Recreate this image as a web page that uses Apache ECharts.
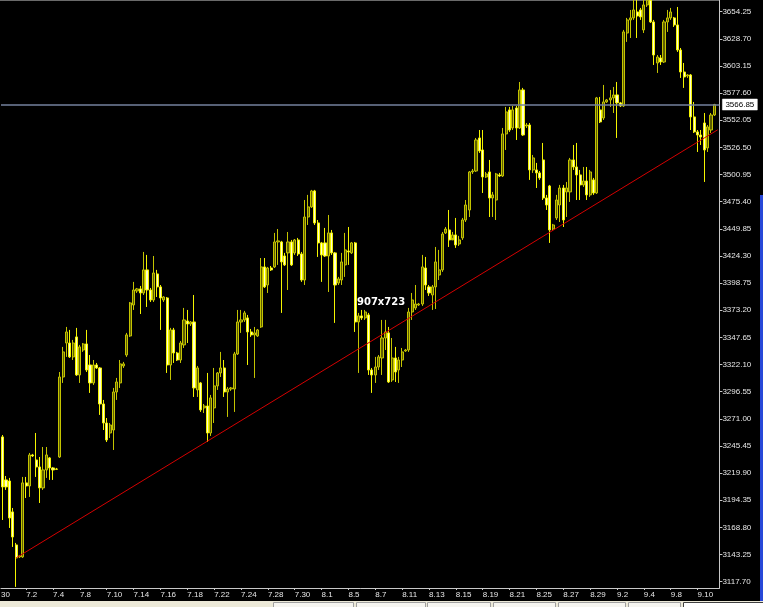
<!DOCTYPE html>
<html>
<head>
<meta charset="utf-8">
<script src="https://cdn.jsdelivr.net/npm/echarts@6/dist/echarts.min.js"></script>
<style>
html,body{margin:0;padding:0;background:#000;}
#c{width:763px;height:607px;}
</style>
</head>
<body>
<div id="c"></div>
<script>
// trading days (4 bars per day; first 3 bars belong to 6.30)
const days = ['6.30','7.1','7.2','7.3','7.4','7.7','7.8','7.9','7.10','7.11','7.14','7.15','7.16','7.17','7.18',
  '7.21','7.22','7.23','7.24','7.25','7.28','7.29','7.30','7.31','8.1','8.4','8.5','8.6','8.7','8.8',
  '8.11','8.12','8.13','8.14','8.15','8.18','8.19','8.20','8.21','8.22','8.25','8.26','8.27','8.28','8.29',
  '9.1','9.2','9.3','9.4','9.5','9.8','9.9','9.10','9.11'];
const xTickLabels = ['7.2','7.4','7.8','7.10','7.14','7.16','7.18','7.22','7.24','7.28','7.30','8.1','8.5','8.7',
  '8.11','8.13','8.15','8.19','8.21','8.25','8.27','8.29','9.2','9.4','9.8','9.10'];
const yTickLabels = [3117.70,3143.25,3168.80,3194.35,3219.90,3245.45,3271.00,3296.55,3322.10,3347.65,3373.20,
  3398.75,3424.30,3449.85,3475.40,3500.95,3526.50,3552.05,3577.60,3603.15,3628.70,3654.25];

const opens = [
 3254.0,3213.5,3212.5,3183.4,3152.3,3141.0,3141.0,3210.7,3207.8,3237.0,
 3232.3,3225.7,3206.0,3222.9,3234.2,3224.8,3223.8,3235.1,3310.4,3342.4,
 3342.4,3329.3,3348.1,3312.3,3335.8,3341.5,3321.7,3304.8,3321.7,3318.9,
 3285.0,3267.1,3257.7,3260.5,3296.3,3304.8,3320.8,3331.1,3349.0,3378.2,
 3391.4,3393.3,3389.5,3411.2,3392.3,3382.9,3407.4,3395.2,3382.9,3384.8,
 3321.7,3354.7,3333.0,3326.4,3340.6,3363.1,3360.3,3362.2,3298.2,3304.8,
 3281.3,3283.1,3257.7,3281.3,3302.0,3314.2,3318.9,3296.3,3299.1,3299.1,
 3332.1,3362.2,3364.1,3366.0,3352.8,3350.0,3349.0,3357.5,3414.0,3397.0,
 3413.0,3414.0,3437.5,3437.5,3424.3,3427.2,3437.5,3427.2,3439.4,3426.2,
 3401.7,3461.0,3470.5,3485.5,3455.4,3436.6,3436.6,3424.3,3446.0,3427.2,
 3398.9,3401.7,3415.9,3429.0,3427.2,3436.6,3362.2,3367.9,3366.0,3368.8,
 3317.0,3312.3,3319.8,3328.3,3347.1,3351.9,3307.6,3328.3,3317.0,3326.4,
 3334.9,3335.8,3371.6,3375.4,3378.2,3379.1,3413.0,3395.2,3387.6,3395.2,
 3406.4,3411.2,3446.0,3448.8,3439.4,3444.1,3435.6,3441.3,3458.2,3467.6,
 3503.4,3504.3,3535.4,3524.1,3498.7,3503.4,3478.9,3477.0,3500.6,3499.6,
 3539.2,3561.8,3544.8,3563.6,3544.8,3580.6,3546.7,3547.6,3505.3,3505.3,
 3502.5,3514.7,3478.9,3490.2,3449.7,3460.1,3472.3,3488.3,3484.6,3484.6,
 3514.7,3508.1,3500.6,3491.2,3494.9,3481.8,3495.9,3483.6,3561.8,3554.2,
 3569.3,3571.2,3573.1,3575.9,3568.4,3565.5,3634.2,3646.5,3648.4,3654.0,
 3655.9,3637.1,3660.6,3665.0,3644.6,3606.0,3610.7,3606.9,3644.6,3648.4,
 3648.4,3641.8,3618.2,3597.5,3593.8,3594.7,3555.2,3541.1,3538.2,3549.5,
 3526.0,3542.9,3557.0];
const closes = [
 3206.9,3206.9,3177.7,3159.8,3140.1,3141.9,3210.7,3207.8,3237.0,3236.1,
 3225.7,3206.0,3222.9,3237.0,3224.8,3222.9,3223.5,3310.4,3334.0,3352.8,
 3329.3,3342.4,3312.3,3338.7,3341.5,3317.0,3304.8,3321.7,3318.9,3285.0,
 3267.1,3251.1,3265.2,3296.3,3305.7,3322.7,3322.7,3350.0,3380.1,3392.3,
 3393.3,3389.5,3411.2,3392.3,3382.9,3408.3,3395.2,3384.8,3385.7,3321.7,
 3354.7,3333.0,3326.4,3342.4,3364.1,3360.3,3362.2,3300.1,3318.9,3279.4,
 3283.1,3257.7,3290.7,3302.0,3314.2,3318.9,3296.3,3299.1,3300.1,3332.1,
 3362.2,3364.1,3370.7,3352.8,3350.0,3351.9,3354.7,3414.0,3395.2,3413.0,
 3411.2,3437.5,3438.5,3418.7,3415.9,3437.5,3415.9,3439.4,3426.2,3401.7,
 3461.0,3470.5,3485.5,3455.4,3436.6,3425.3,3424.3,3446.0,3427.2,3397.0,
 3402.7,3418.7,3430.0,3428.1,3436.6,3362.2,3367.9,3366.0,3371.6,3317.0,
 3312.3,3319.8,3329.3,3347.1,3352.8,3305.7,3328.3,3315.1,3326.4,3334.0,
 3335.8,3371.6,3382.9,3379.1,3379.1,3414.0,3397.0,3389.5,3395.2,3418.7,
 3411.2,3445.0,3449.7,3439.4,3444.1,3434.7,3439.4,3458.2,3472.3,3503.4,
 3504.3,3533.5,3523.2,3498.7,3501.5,3478.9,3481.8,3501.5,3499.6,3539.2,
 3559.9,3542.9,3561.8,3544.8,3580.6,3538.2,3547.6,3505.3,3516.6,3502.5,
 3497.8,3478.9,3472.3,3448.8,3453.5,3477.0,3488.3,3458.2,3488.3,3514.7,
 3508.1,3500.6,3491.2,3494.9,3481.8,3503.4,3483.6,3573.1,3550.5,3569.3,
 3571.2,3573.1,3575.9,3568.4,3565.5,3635.2,3646.5,3648.4,3655.9,3650.2,
 3649.3,3660.6,3665.0,3644.6,3613.5,3611.6,3606.9,3644.6,3648.4,3654.0,
 3641.8,3618.2,3597.5,3592.8,3594.7,3555.2,3541.1,3538.2,3536.3,3524.1,
 3545.8,3557.0,3566.85];
const highs = [
 3255.8,3217.2,3215.4,3187.1,3154.2,3142.9,3216.3,3216.3,3238.9,3238.0,
 3257.7,3235.1,3244.5,3244.5,3235.1,3225.7,3224.8,3315.1,3338.7,3357.5,
 3354.7,3345.3,3356.6,3340.6,3342.4,3354.7,3331.1,3326.4,3323.6,3319.8,
 3288.8,3271.8,3267.1,3300.1,3309.5,3326.4,3324.6,3351.9,3381.0,3399.9,
 3394.2,3396.1,3428.1,3425.3,3394.2,3424.3,3411.2,3397.0,3386.5,3385.7,
 3356.6,3356.6,3334.0,3344.3,3375.4,3373.5,3363.1,3387.6,3320.8,3305.7,
 3285.0,3314.2,3293.5,3318.9,3315.1,3334.0,3326.4,3301.0,3301.0,3334.0,
 3373.5,3373.5,3372.6,3368.8,3355.6,3357.5,3355.6,3422.4,3422.4,3414.0,
 3414.9,3446.0,3449.7,3438.5,3427.2,3446.9,3439.4,3440.3,3441.3,3428.1,
 3477.0,3481.8,3486.5,3486.5,3458.2,3437.5,3450.7,3462.9,3448.8,3428.1,
 3404.6,3427.2,3446.0,3451.6,3437.5,3437.5,3370.7,3373.5,3373.5,3370.7,
 3318.9,3329.3,3331.1,3364.1,3364.1,3357.5,3347.1,3338.7,3329.3,3337.7,
 3336.8,3375.4,3389.5,3397.0,3380.1,3425.3,3423.4,3397.0,3397.0,3432.8,
 3430.0,3446.9,3451.6,3467.6,3446.9,3460.1,3443.2,3460.1,3477.0,3504.3,
 3506.2,3535.4,3542.9,3542.9,3503.4,3514.7,3484.6,3502.5,3502.5,3544.8,
 3564.6,3564.6,3565.5,3565.5,3588.1,3582.5,3549.5,3549.5,3519.4,3511.9,
 3504.3,3530.7,3481.8,3491.2,3454.5,3481.8,3491.2,3491.2,3494.0,3516.6,
 3528.8,3530.7,3505.3,3508.1,3508.1,3505.3,3497.8,3574.0,3574.0,3585.3,
 3572.1,3580.6,3583.4,3588.1,3569.3,3637.1,3648.4,3655.9,3668.0,3666.0,
 3657.8,3668.0,3672.0,3670.0,3646.5,3613.5,3613.5,3646.5,3655.9,3657.8,
 3649.3,3658.7,3620.1,3606.0,3595.6,3595.6,3569.3,3542.9,3542.9,3558.9,
 3547.6,3558.9,3567.5];
const lows = [
 3175.8,3204.1,3168.3,3150.4,3112.8,3140.1,3140.1,3196.5,3197.5,3235.1,
 3216.3,3191.8,3204.1,3215.4,3213.5,3213.5,3222.9,3234.2,3304.8,3329.3,
 3328.3,3326.4,3311.4,3304.8,3334.0,3315.1,3295.4,3302.9,3318.0,3274.7,
 3260.5,3249.2,3253.0,3241.7,3288.8,3300.1,3318.9,3329.3,3348.1,3373.5,
 3389.5,3369.7,3387.6,3376.3,3381.0,3381.0,3385.7,3354.7,3381.0,3314.2,
 3307.6,3323.6,3325.5,3323.6,3337.7,3342.4,3358.4,3291.6,3291.6,3277.5,
 3276.5,3249.2,3254.9,3267.1,3298.2,3310.4,3291.6,3272.8,3297.3,3277.5,
 3331.1,3351.9,3362.2,3321.7,3348.1,3309.5,3348.1,3356.6,3394.2,3389.5,
 3410.2,3413.0,3415.9,3370.7,3414.9,3392.3,3414.9,3425.3,3424.3,3399.9,
 3397.0,3453.5,3469.5,3453.5,3423.4,3399.9,3423.4,3390.4,3425.3,3361.3,
 3397.0,3397.0,3404.6,3415.9,3426.2,3352.8,3314.2,3364.1,3364.1,3312.3,
 3295.4,3304.8,3317.0,3312.3,3335.8,3304.8,3305.7,3305.7,3304.8,3319.8,
 3334.0,3334.0,3364.1,3373.5,3377.3,3377.3,3392.3,3386.7,3373.5,3374.4,
 3401.7,3409.3,3445.0,3432.8,3441.3,3431.9,3433.7,3439.4,3456.3,3461.0,
 3501.5,3503.4,3521.3,3483.6,3497.8,3461.0,3461.0,3458.2,3498.7,3498.7,
 3524.1,3541.1,3542.9,3533.5,3543.9,3537.3,3544.8,3495.9,3502.5,3488.3,
 3495.9,3477.0,3467.6,3436.6,3447.9,3458.2,3456.3,3451.6,3461.0,3475.2,
 3505.3,3477.0,3477.0,3489.3,3477.0,3479.9,3481.8,3482.7,3549.5,3552.3,
 3568.4,3564.6,3558.9,3535.4,3564.6,3564.6,3625.8,3629.5,3646.5,3629.5,
 3646.5,3634.2,3658.7,3643.6,3604.1,3596.6,3604.1,3606.0,3635.2,3646.5,
 3639.9,3616.4,3591.9,3582.5,3591.9,3542.9,3540.1,3522.2,3528.8,3494.0,
 3522.2,3540.1,3556.1];

const currentPrice = 3566.85;
const trendStart = {bar: 4, value: 3140.1};
const trendEnd = {bar: 213, value: 3543.1};
const NBARS = 214;

const cats = [];
for (let i = 0; i < NBARS; i++) cats.push(i < 3 ? days[0] : days[1 + Math.floor((i - 3) / 4)]);
const kdata = [];
for (let i = 0; i < NBARS; i++) {
  kdata.push(i < opens.length ? [opens[i], closes[i], lows[i], highs[i]] : '-');
}
const isLabel = (idx) => idx >= 7 && (idx - 7) % 8 === 0;

const chart = echarts.init(document.getElementById('c'), null, {renderer: 'canvas'});
const FONT = 'Liberation Sans';
chart.setOption({
  animation: false,
  backgroundColor: '#000',
  grid: {left: 1, right: 43.6, top: 0, bottom: 19, containLabel: false},
  xAxis: {
    type: 'category',
    data: cats,
    boundaryGap: true,
    axisLine: {show: true, lineStyle: {color: '#c8c8c8', width: 1}},
    axisTick: {show: true, alignWithLabel: true, interval: (idx) => isLabel(idx), length: 2, lineStyle: {color: '#c8c8c8'}},
    axisLabel: {
      interval: (idx) => isLabel(idx),
      formatter: (v, idx) => xTickLabels[(idx - 7) / 8],
      color: '#e6e6e6', fontSize: 8, fontFamily: FONT, align: 'left', margin: 3
    },
    splitLine: {show: false}
  },
  yAxis: {
    type: 'value',
    position: 'right',
    min: 3111.77,
    max: 3665.26,
    scale: true,
    axisLine: {show: true, lineStyle: {color: '#c8c8c8', width: 1}},
    axisTick: {show: true, customValues: yTickLabels, length: 3, lineStyle: {color: '#c8c8c8'}},
    axisLabel: {
      customValues: yTickLabels,
      formatter: (v) => Number(v).toFixed(2),
      color: '#e6e6e6', fontSize: 8, fontFamily: FONT, margin: 3
    },
    splitLine: {show: false}
  },
  series: [{
    type: 'candlestick',
    data: kdata,
    barWidth: 2.6,
    clip: true,
    itemStyle: {
      color: '#5e5e00',
      color0: '#ffffd0',
      borderColor: '#c4c400',
      borderColor0: '#f4f400',
      borderWidth: 1
    },
    markLine: {
      silent: true,
      symbol: ['none', 'none'],
      animation: false,
      data: [
        {
          yAxis: currentPrice,
          lineStyle: {color: '#75829e', width: 1.5, type: 'solid'},
          label: {
            show: true, position: 'end', distance: 3,
            formatter: currentPrice.toFixed(2),
            backgroundColor: '#ffffff', color: '#000', fontSize: 8, fontFamily: FONT,
            padding: [2, 3, 1, 3], borderColor: '#808080', borderWidth: 0.5
          }
        },
        [
          {coord: [trendStart.bar, trendStart.value], lineStyle: {color: '#d40000', width: 1, type: 'solid'}, label: {show: false}},
          {coord: [trendEnd.bar, trendEnd.value]}
        ]
      ]
    }
  }],
  graphic: [
    {type: 'rect', left: 0, top: 0, shape: {width: 719, height: 1}, style: {fill: '#6a6a6a'}, silent: true},
    {type: 'text', left: 357, top: 297, style: {text: '907x723', fill: '#ffffff', font: 'bold 10px "DejaVu Sans"'}, silent: true},
    {type: 'text', left: 1, top: 591, style: {text: '30', fill: '#e6e6e6', font: '8px "Liberation Sans"'}, silent: true},
    {type: 'rect', left: 760, top: 195, shape: {width: 3, height: 406}, style: {fill: '#2848d8'}, silent: true},
    {type: 'rect', left: 0, top: 601, shape: {width: 763, height: 6}, style: {fill: '#ece9d8'}, silent: true},
    {type: 'rect', left: 273, top: 602, shape: {width: 80, height: 6}, style: {fill: '#f6f5f0', stroke: '#a0a0a0', lineWidth: 1}, silent: true},
    {type: 'rect', left: 356, top: 602, shape: {width: 69, height: 6}, style: {fill: '#f6f5f0', stroke: '#a0a0a0', lineWidth: 1}, silent: true},
    {type: 'rect', left: 427, top: 602, shape: {width: 63, height: 6}, style: {fill: '#f6f5f0', stroke: '#a0a0a0', lineWidth: 1}, silent: true},
    {type: 'rect', left: 493, top: 602, shape: {width: 62, height: 6}, style: {fill: '#f6f5f0', stroke: '#a0a0a0', lineWidth: 1}, silent: true},
    {type: 'rect', left: 558, top: 602, shape: {width: 67, height: 6}, style: {fill: '#f6f5f0', stroke: '#a0a0a0', lineWidth: 1}, silent: true},
    {type: 'rect', left: 628, top: 602, shape: {width: 52, height: 6}, style: {fill: '#f6f5f0', stroke: '#a0a0a0', lineWidth: 1}, silent: true},
    {type: 'rect', left: 683, top: 602, shape: {width: 80, height: 6}, style: {fill: '#ffffff', stroke: '#404040', lineWidth: 1}, silent: true}
  ]
});
</script>
</body>
</html>
